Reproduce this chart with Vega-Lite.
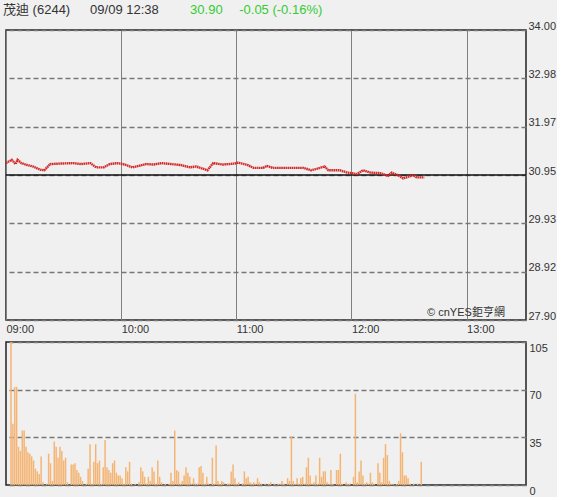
{
  "$schema": "https://vega.github.io/schema/vega-lite/v6.json",
  "background": "#f0f0f0",
  "padding": {"left": 0, "top": 0, "right": 0, "bottom": 0},
  "bounds": "flush",
  "config": {
    "font": "Liberation Sans, Noto Sans CJK TC",
    "view": {"stroke": "#222", "strokeWidth": 1.5, "fill": "#f0f0f0"},
    "axis": {"labelColor": "#333", "labelFontSize": 11, "ticks": false, "domain": false, "title": null, "labelFont": "Liberation Sans"}
  },
  "datasets": {
    "price": [
      {"m": 0, "p": 31.2}, {"m": 3, "p": 31.27}, {"m": 5, "p": 31.18}, {"m": 6, "p": 31.27}, {"m": 8, "p": 31.2},
      {"m": 11, "p": 31.16}, {"m": 14, "p": 31.13}, {"m": 18, "p": 31.06}, {"m": 20, "p": 31.05}, {"m": 23, "p": 31.18},
      {"m": 28, "p": 31.19}, {"m": 35, "p": 31.2}, {"m": 39, "p": 31.18}, {"m": 44, "p": 31.2}, {"m": 47, "p": 31.11},
      {"m": 51, "p": 31.11}, {"m": 54, "p": 31.18}, {"m": 58, "p": 31.2}, {"m": 61, "p": 31.18}, {"m": 66, "p": 31.11},
      {"m": 70, "p": 31.15}, {"m": 73, "p": 31.18}, {"m": 77, "p": 31.17}, {"m": 81, "p": 31.2}, {"m": 86, "p": 31.18},
      {"m": 91, "p": 31.16}, {"m": 96, "p": 31.11}, {"m": 99, "p": 31.13}, {"m": 105, "p": 31.05}, {"m": 108, "p": 31.2},
      {"m": 113, "p": 31.17}, {"m": 119, "p": 31.19}, {"m": 121, "p": 31.21}, {"m": 126, "p": 31.16}, {"m": 129, "p": 31.1},
      {"m": 134, "p": 31.1}, {"m": 136, "p": 31.14}, {"m": 139, "p": 31.1}, {"m": 153, "p": 31.1}, {"m": 155, "p": 31.1},
      {"m": 159, "p": 31.05}, {"m": 162, "p": 31.08}, {"m": 166, "p": 31.13}, {"m": 168, "p": 31.05}, {"m": 174, "p": 31.05},
      {"m": 178, "p": 31.0}, {"m": 183, "p": 30.97}, {"m": 186, "p": 31.05}, {"m": 190, "p": 31.0}, {"m": 195, "p": 30.99},
      {"m": 199, "p": 30.93}, {"m": 201, "p": 31.0}, {"m": 204, "p": 30.95}, {"m": 207, "p": 30.88}, {"m": 211, "p": 30.93},
      {"m": 212, "p": 30.95}, {"m": 214, "p": 30.9}, {"m": 218, "p": 30.9}
    ],
    "vol": [
      {"m":0,"v":105},{"m":1,"v":45},{"m":2,"v":72},{"m":3,"v":72},{"m":4,"v":28},{"m":5,"v":25},{"m":6,"v":40},{"m":7,"v":40},{"m":8,"v":28},{"m":9,"v":24},
      {"m":10,"v":23},{"m":11,"v":21},{"m":12,"v":18},{"m":13,"v":12},{"m":14,"v":10},{"m":15,"v":8},{"m":16,"v":21},{"m":17,"v":2},{"m":18,"v":0},{"m":19,"v":1},
      {"m":20,"v":23},{"m":21,"v":16},{"m":22,"v":3},{"m":23,"v":32},{"m":24,"v":28},{"m":25,"v":20},{"m":26,"v":28},{"m":27,"v":25},{"m":28,"v":18},{"m":29,"v":20},
      {"m":30,"v":2},{"m":31,"v":0},{"m":32,"v":15},{"m":33,"v":15},{"m":34,"v":16},{"m":35,"v":11},{"m":36,"v":9},{"m":37,"v":6},{"m":38,"v":3},{"m":39,"v":0},
      {"m":40,"v":1},{"m":41,"v":12},{"m":42,"v":30},{"m":43,"v":1},{"m":44,"v":17},{"m":45,"v":30},{"m":46,"v":16},{"m":47,"v":18},{"m":48,"v":1},{"m":49,"v":13},
      {"m":50,"v":33},{"m":51,"v":13},{"m":52,"v":11},{"m":53,"v":9},{"m":54,"v":16},{"m":55,"v":18},{"m":56,"v":9},{"m":57,"v":7},{"m":58,"v":7},{"m":59,"v":5},
      {"m":60,"v":1},{"m":61,"v":13},{"m":62,"v":10},{"m":63,"v":17},{"m":64,"v":1},{"m":65,"v":0},{"m":66,"v":1},{"m":67,"v":0},{"m":68,"v":2},{"m":69,"v":13},
      {"m":70,"v":10},{"m":71,"v":6},{"m":72,"v":1},{"m":73,"v":6},{"m":74,"v":3},{"m":75,"v":13},{"m":76,"v":10},{"m":77,"v":1},{"m":78,"v":18},{"m":79,"v":6},
      {"m":80,"v":2},{"m":81,"v":0},{"m":82,"v":1},{"m":83,"v":0},{"m":84,"v":1},{"m":85,"v":9},{"m":86,"v":3},{"m":87,"v":40},{"m":88,"v":11},{"m":89,"v":10},
      {"m":90,"v":1},{"m":91,"v":3},{"m":92,"v":7},{"m":93,"v":13},{"m":94,"v":9},{"m":95,"v":6},{"m":96,"v":1},{"m":97,"v":5},{"m":98,"v":1},{"m":99,"v":1},
      {"m":100,"v":13},{"m":101,"v":14},{"m":102,"v":9},{"m":103,"v":1},{"m":104,"v":6},{"m":105,"v":1},{"m":106,"v":0},{"m":107,"v":20},{"m":108,"v":1},{"m":109,"v":29},
      {"m":110,"v":3},{"m":111,"v":1},{"m":112,"v":3},{"m":113,"v":2},{"m":114,"v":0},{"m":115,"v":1},{"m":116,"v":1},{"m":117,"v":10},{"m":118,"v":15},{"m":119,"v":5},
      {"m":120,"v":1},{"m":121,"v":2},{"m":122,"v":0},{"m":123,"v":1},{"m":124,"v":10},{"m":125,"v":5},{"m":126,"v":6},{"m":127,"v":2},{"m":128,"v":1},{"m":129,"v":2},
      {"m":130,"v":1},{"m":131,"v":5},{"m":132,"v":2},{"m":133,"v":1},{"m":134,"v":0},{"m":135,"v":1},{"m":136,"v":0},{"m":137,"v":1},{"m":138,"v":2},{"m":139,"v":0},
      {"m":140,"v":1},{"m":141,"v":0},{"m":142,"v":1},{"m":143,"v":1},{"m":144,"v":3},{"m":145,"v":1},{"m":146,"v":0},{"m":147,"v":5},{"m":148,"v":3},{"m":149,"v":36},
      {"m":150,"v":3},{"m":151,"v":1},{"m":152,"v":5},{"m":153,"v":1},{"m":154,"v":5},{"m":155,"v":6},{"m":156,"v":1},{"m":157,"v":13},{"m":158,"v":20},{"m":159,"v":7},
      {"m":160,"v":1},{"m":161,"v":2},{"m":162,"v":7},{"m":163,"v":1},{"m":164,"v":20},{"m":165,"v":6},{"m":166,"v":10},{"m":167,"v":10},{"m":168,"v":2},{"m":169,"v":1},
      {"m":170,"v":11},{"m":171,"v":1},{"m":172,"v":0},{"m":173,"v":11},{"m":174,"v":11},{"m":175,"v":23},{"m":176,"v":1},{"m":177,"v":0},{"m":178,"v":2},{"m":179,"v":1},
      {"m":180,"v":1},{"m":181,"v":0},{"m":182,"v":6},{"m":183,"v":67},{"m":184,"v":2},{"m":185,"v":10},{"m":186,"v":18},{"m":187,"v":7},{"m":188,"v":1},{"m":189,"v":2},
      {"m":190,"v":1},{"m":191,"v":9},{"m":192,"v":2},{"m":193,"v":1},{"m":194,"v":0},{"m":195,"v":16},{"m":196,"v":9},{"m":197,"v":2},{"m":198,"v":20},{"m":199,"v":30},
      {"m":200,"v":22},{"m":201,"v":3},{"m":202,"v":1},{"m":203,"v":1},{"m":204,"v":0},{"m":205,"v":1},{"m":206,"v":3},{"m":207,"v":38},{"m":208,"v":24},{"m":209,"v":7},
      {"m":210,"v":7},{"m":211,"v":5},{"m":212,"v":1},{"m":213,"v":0},{"m":214,"v":1},{"m":215,"v":0},{"m":216,"v":1},{"m":217,"v":0},{"m":218,"v":17}
    ]
  },
  "spacing": 22,
  "vconcat": [
    {
      "width": 520,
      "height": 8,
      "view": {"stroke": null, "fill": null},
      "data": {"values": [
        {"label": "茂迪 (6244)", "pos": 0, "kind": "name"},
        {"label": "09/09 12:38", "pos": 45.4, "kind": "name"},
        {"label": "30.90", "pos": 97.5, "kind": "chg"},
        {"label": "-0.05 (-0.16%)", "pos": 123.1, "kind": "chg"}
      ]},
      "mark": {"type": "text", "align": "left", "baseline": "middle", "fontSize": 13, "dx": -3},
      "encoding": {
        "x": {"field": "pos", "type": "quantitative", "scale": {"domain": [0, 271], "nice": false, "zero": false}, "axis": null},
        "y": {"datum": 0.5, "type": "quantitative", "scale": {"domain": [0, 1], "range": [20, 0], "nice": false}, "axis": null},
        "text": {"field": "label"},
        "color": {"field": "kind", "type": "nominal", "scale": {"domain": ["name", "chg"], "range": ["#333333", "#33cc33"]}, "legend": null}
      }
    },
    {
      "width": 520,
      "height": 290,
      "layer": [
        {
          "data": {"values": [{"prev": 30.95}]},
          "mark": {"type": "rule", "color": "#111", "strokeWidth": 1.5},
          "encoding": {
            "y": {"field": "prev", "type": "quantitative", "scale": {"domain": [27.9, 34], "nice": false, "zero": false}}
          }
        },
        {
          "data": {"name": "price"},
          "mark": {"type": "line", "color": "#d42a2a", "strokeWidth": 2.4, "strokeDash": [1.6, 0.5]},
          "encoding": {
            "x": {
              "field": "m", "type": "quantitative",
              "scale": {"domain": [0, 271], "nice": false, "zero": false},
              "axis": {
                "orient": "bottom", "values": [0, 60, 120, 180, 240],
                "labelExpr": "format(9 + datum.value / 60, '02d') + ':00'",
                "labelAlign": "left", "labelPadding": 3, "labelBaseline": "top",
                "grid": true, "gridColor": "#808080", "gridWidth": 1, "gridOpacity": 1
              }
            },
            "y": {
              "field": "p", "type": "quantitative",
              "scale": {"domain": [27.9, 34], "nice": false, "zero": false},
              "axis": {
                "orient": "right", "values": [27.9, 28.92, 29.93, 30.95, 31.97, 32.98, 34],
                "format": ".2f", "labelPadding": 2, "labelOffset": -4,
                "grid": true, "gridColor": "#777", "gridWidth": 1.5, "gridDash": [5, 3], "gridOpacity": 1
              }
            }
          }
        },
        {
          "data": {"values": [{"src": "© cnYES鉅亨網"}]},
          "mark": {"type": "text", "align": "right", "baseline": "middle", "fontSize": 11, "color": "#333", "font": "Liberation Sans, Noto Sans CJK TC"},
          "encoding": {
            "x": {"datum": 260, "type": "quantitative"},
            "y": {"datum": 28.04, "type": "quantitative"},
            "text": {"field": "src"}
          }
        }
      ]
    },
    {
      "width": 520,
      "height": 143,
      "data": {"name": "vol"},
      "mark": {"type": "bar", "color": "#f4b574", "width": 1.5},
      "encoding": {
        "x": {
          "field": "m", "type": "quantitative",
          "scale": {"domain": [0, 271], "nice": false, "zero": false},
          "axis": null
        },
        "y": {
          "field": "v", "type": "quantitative",
          "scale": {"domain": [0, 105], "nice": false},
          "axis": {
            "orient": "right", "values": [0, 35, 70, 105],
            "labelPadding": 3, "labelOffset": 6,
            "grid": true, "gridColor": "#777", "gridWidth": 1.5, "gridDash": [5, 3], "gridOpacity": 1
          }
        }
      }
    }
  ]
}
